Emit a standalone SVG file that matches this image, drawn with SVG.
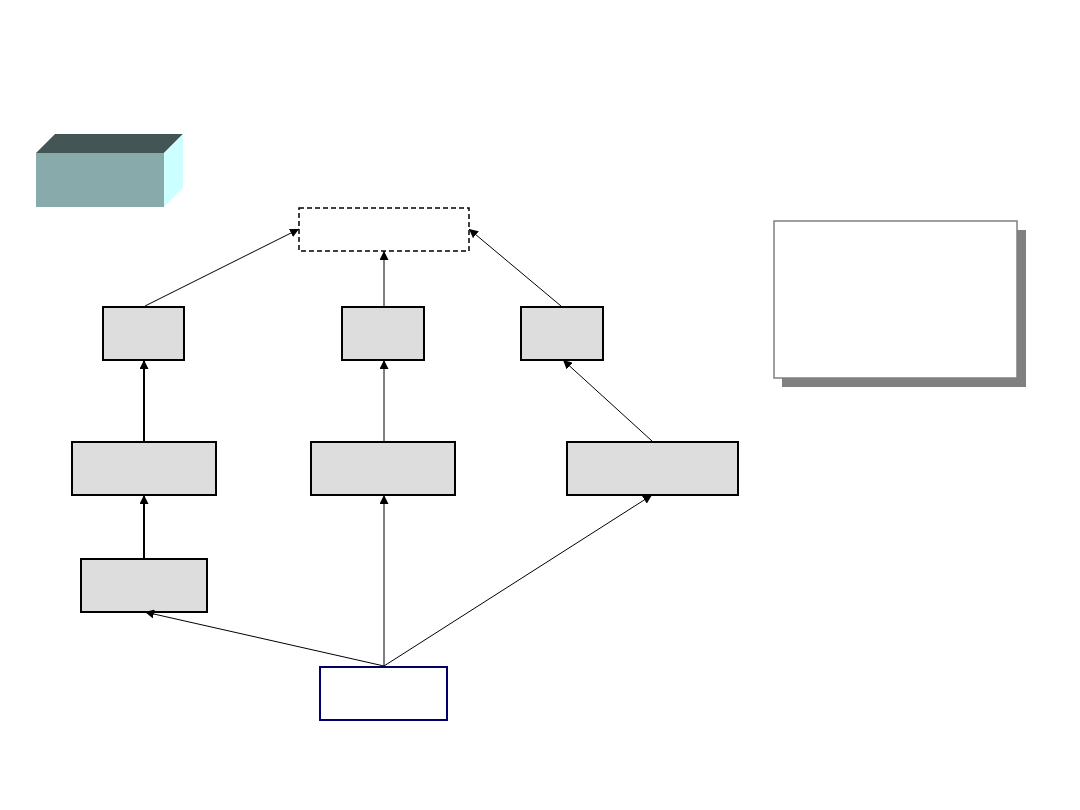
<svg xmlns="http://www.w3.org/2000/svg" width="1080" height="810" viewBox="0 0 1080 810">
<style>
.box{fill:#DDDDDD;stroke:#000;stroke-width:2}
.ln{stroke:#000;stroke-width:1;fill:none;marker-end:url(#ah)}
.lnb{stroke:#000;stroke-width:2;fill:none;marker-end:url(#ahb)}
</style>
<defs>
<marker id="ah" viewBox="0 0 10 10" refX="10" refY="5" markerWidth="9" markerHeight="9" markerUnits="userSpaceOnUse" orient="auto"><path d="M0,0 L10,5 L0,10 z" fill="#000"/></marker>
<marker id="ahb" viewBox="0 0 10 10" refX="10" refY="5" markerWidth="9" markerHeight="9" markerUnits="userSpaceOnUse" orient="auto"><path d="M0,0 L10,5 L0,10 z" fill="#000"/></marker>
</defs>
<rect width="1080" height="810" fill="#fff"/>
<g id="cube">
<polygon points="36,153 55,134 183,134 164,153" fill="#445555"/>
<polygon points="164,153 183,134 183,188 164,207" fill="#CCFFFF"/>
<rect x="36" y="153" width="128" height="54" fill="#88AAAA"/>
</g>
<g id="top"><rect x="299" y="208" width="170" height="43" fill="#fff" stroke="#000" stroke-width="1.5" stroke-dasharray="5,3"/></g>
<g id="note">
<rect x="782" y="230" width="244" height="157" fill="#808080"/>
<rect x="774" y="221" width="243" height="157" fill="#fff" stroke="#808080" stroke-width="1.5"/>
</g>
<g id="n1"><rect class="box" x="103" y="307" width="81" height="53"/></g>
<g id="n2"><rect class="box" x="342" y="307" width="82" height="53"/></g>
<g id="n3"><rect class="box" x="521" y="307" width="82" height="53"/></g>
<g id="n4"><rect class="box" x="72" y="442" width="144" height="53"/></g>
<g id="n5"><rect class="box" x="311" y="442" width="144" height="53"/></g>
<g id="n6"><rect class="box" x="567" y="442" width="171" height="53"/></g>
<g id="n7"><rect class="box" x="81" y="559" width="126" height="53"/></g>
<g id="bottom"><rect x="320" y="667" width="127" height="53" fill="#fff" stroke="#000066" stroke-width="2"/></g>
<g id="connectors">
<line class="ln" x1="145" y1="306" x2="299" y2="229"/>
<line class="ln" x1="384" y1="306" x2="384" y2="251"/>
<line class="ln" x1="561" y1="306" x2="469" y2="229"/>
<line class="lnb" x1="144" y1="441" x2="144" y2="360"/>
<line class="ln" x1="384" y1="441" x2="384" y2="360"/>
<line class="ln" x1="652" y1="441" x2="563" y2="360"/>
<line class="lnb" x1="144" y1="558" x2="144" y2="495"/>
<line class="ln" x1="384" y1="666" x2="384" y2="495"/>
<line class="ln" x1="384" y1="666" x2="652" y2="495"/>
<line class="ln" x1="384" y1="666" x2="145" y2="612"/>
</g>
</svg>
